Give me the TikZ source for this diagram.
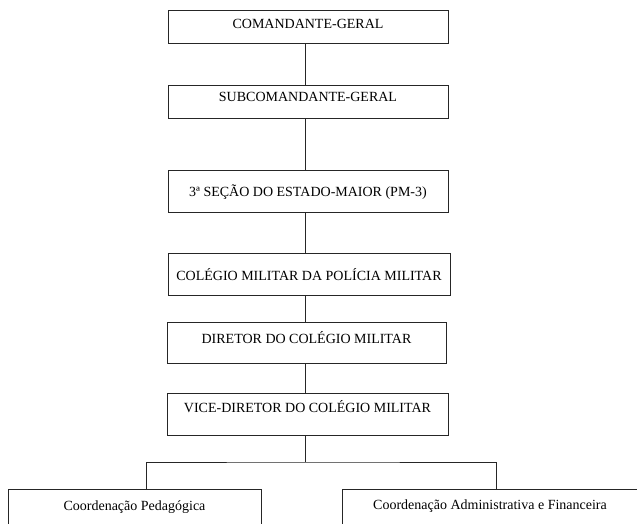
\documentclass[tikz,border=0pt]{standalone}
\usepackage{fontspec}
\setmainfont{Liberation Serif}
\begin{document}
\begin{tikzpicture}[x=1pt,y=-1pt,
  box/.style={draw=black!85, line width=0.8pt, inner xsep=0pt, inner ysep=0pt, font=\fontsize{14}{16}\selectfont},
  conn/.style={draw=black!85, line width=0.8pt}]
\useasboundingbox (0,0) rectangle (637,524);
\node[box, minimum width=280pt, text height=19pt, text depth=14pt] (b1) at (308,26.5) {COMANDANTE-GERAL};
\node[box, minimum width=280pt, text height=17pt, text depth=16pt] (b2) at (308,101.5) {SUBCOMANDANTE-GERAL};
\node[box, minimum width=280pt, text height=26pt, text depth=16pt] (b3) at (308,191) {3ª SEÇÃO DO ESTADO-MAIOR (PM-3)};
\node[box, minimum width=282pt, text height=27pt, text depth=15pt] (b4) at (309,274) {COLÉGIO MILITAR DA POLÍCIA MILITAR};
\node[box, minimum width=279pt, text height=21pt, text depth=20pt] (b5) at (306.5,342.5) {DIRETOR DO COLÉGIO MILITAR};
\node[box, minimum width=281pt, text height=19pt, text depth=23pt] (b6) at (307.5,414) {VICE-DIRETOR DO COLÉGIO MILITAR};
\node[box, minimum width=253pt, text height=21pt, text depth=21pt] (b7) at (134.5,510) {Coordenação Pedagógica};
\node[box, minimum width=296pt, text height=20pt, text depth=21pt] (b8) at (490,510) {Coordenação Administrativa e Financeira};
\coordinate (split) at (305,462);
\draw[conn] ([xshift=-3pt]b1.south) -- ([xshift=-3pt]b2.north);
\draw[conn] ([xshift=-3pt]b2.south) -- ([xshift=-3pt]b3.north);
\draw[conn] ([xshift=-3pt]b3.south) -- ([xshift=-4pt]b4.north);
\draw[conn] ([xshift=-4pt]b4.south) -- ([xshift=-1.5pt]b5.north);
\draw[conn] ([xshift=-1.5pt]b5.south) -- ([xshift=-2.5pt]b6.north);
\draw[conn] ([xshift=-2.5pt]b6.south) -- (split);
\draw[conn] ([xshift=11.5pt]b7.north) |- (split) -| ([xshift=6pt]b8.north);
\end{tikzpicture}
\end{document}
